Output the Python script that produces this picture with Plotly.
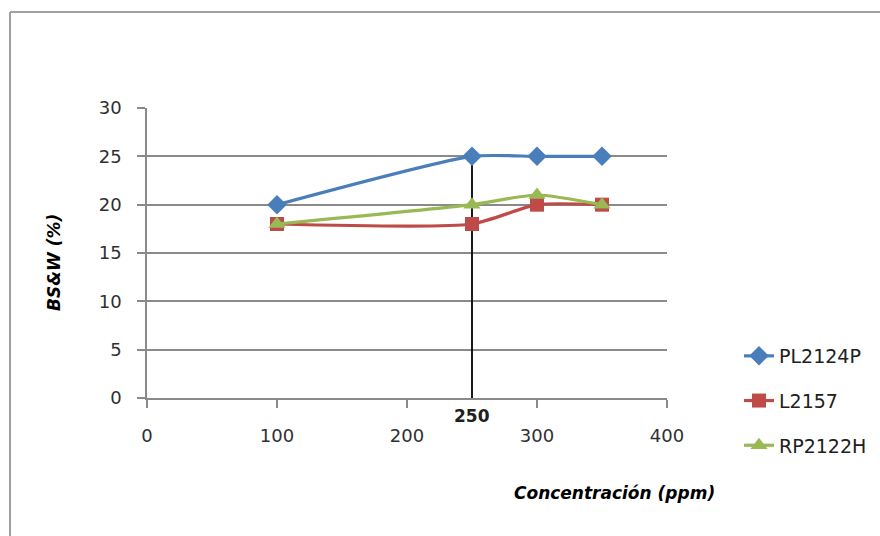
import plotly.graph_objects as go

concentration = [100, 250, 300, 350]
pl2124p = [20, 25, 25, 25]
l2157 = [18, 18, 20, 20]
rp2122h = [18, 20, 21, 20]
series_names = ["PL2124P", "L2157", "RP2122H"]
x_ticks = [0, 100, 200, 300, 400]
y_ticks = [0, 5, 10, 15, 20, 25, 30]
ref_x = 250
ref_label = "250"

colors = ["#4A7EBB", "#BE4B48", "#98B954"]
symbols = ["diamond", "square", "triangle-up"]
sizes = [15, 14, 15]
FONT = "DejaVu Sans"

fig = go.Figure()
ref_top = pl2124p[concentration.index(ref_x)]
fig.add_trace(go.Scatter(
    x=[ref_x, ref_x], y=[0, ref_top], mode="lines",
    line=dict(color="#000000", width=1.8), showlegend=False, hoverinfo="skip",
))
for i, (name, ys) in enumerate(zip(series_names, [pl2124p, l2157, rp2122h])):
    fig.add_trace(go.Scatter(
        x=concentration, y=ys, name=name, mode="lines+markers",
        line=dict(color=colors[i], width=3.2, shape="spline", smoothing=0.6),
        marker=dict(symbol=symbols[i], size=sizes[i], color=colors[i]),
        legendgroup=name,
    ))

W, H = 880, 536
L, R, T, B = 147, 880 - 667, 108, 536 - 398
pw, ph = W - L - R, H - T - B

def px_x(p):
    return (p - L) / pw

def px_y(p):
    return (H - B - p) / ph

fig.update_layout(
    width=W, height=H,
    margin=dict(l=L, r=R, t=T, b=B, autoexpand=False),
    paper_bgcolor="white", plot_bgcolor="white",
    font=dict(family=FONT, size=17, color="#303030"),
    showlegend=True,
    legend=dict(
        x=px_x(739), y=px_y(337), xanchor="left", yanchor="top",
        font=dict(family=FONT, size=19, color="#202020"),
        tracegroupgap=17, bgcolor="rgba(0,0,0,0)",
    ),
    xaxis=dict(
        range=[0, 400], tickvals=x_ticks, ticktext=[str(v) for v in x_ticks],
        showgrid=False, zeroline=False, showline=True, linecolor="#8a8a8a", linewidth=1.5,
        ticks="outside", ticklen=8, tickcolor="#8a8a8a", tickwidth=1.5,
        ticklabelstandoff=13, tickfont=dict(size=18, color="#303030"),
        automargin=False,
    ),
    yaxis=dict(
        range=[0, 30], tickvals=y_ticks,
        showgrid=True, gridcolor="#8a8a8a", gridwidth=1.5, zeroline=False,
        showline=True, linecolor="#8a8a8a", linewidth=1.5,
        ticks="outside", ticklen=8, tickcolor="#8a8a8a", tickwidth=1.5,
        ticklabelstandoff=12, tickfont=dict(size=18, color="#303030"),
        automargin=False,
    ),
    annotations=[
        dict(text="<b><i>BS&W (%)</i></b>", xref="paper", yref="paper",
             x=px_x(54), y=px_y(263), xanchor="center", yanchor="middle",
             textangle=-90, showarrow=False,
             font=dict(family=FONT, size=17, color="#000000")),
        dict(text="<b><i>Concentración (ppm)</i></b>", xref="paper", yref="paper",
             x=px_x(614), y=px_y(493), xanchor="center", yanchor="middle",
             showarrow=False,
             font=dict(family=FONT, size=17, color="#000000")),
        dict(text="<b>" + ref_label + "</b>", xref="x", yref="paper",
             x=ref_x, y=px_y(416), xanchor="center", yanchor="middle",
             showarrow=False,
             font=dict(family=FONT, size=17, color="#202020")),
    ],
    shapes=[
        dict(type="line", xref="paper", yref="paper",
             x0=px_x(10), x1=px_x(10), y0=px_y(12), y1=px_y(560),
             line=dict(color="#a0a0a0", width=2)),
        dict(type="line", xref="paper", yref="paper",
             x0=px_x(10), x1=px_x(900), y0=px_y(12), y1=px_y(12),
             line=dict(color="#a0a0a0", width=2)),
    ],
)

fig.write_html("out.html")
